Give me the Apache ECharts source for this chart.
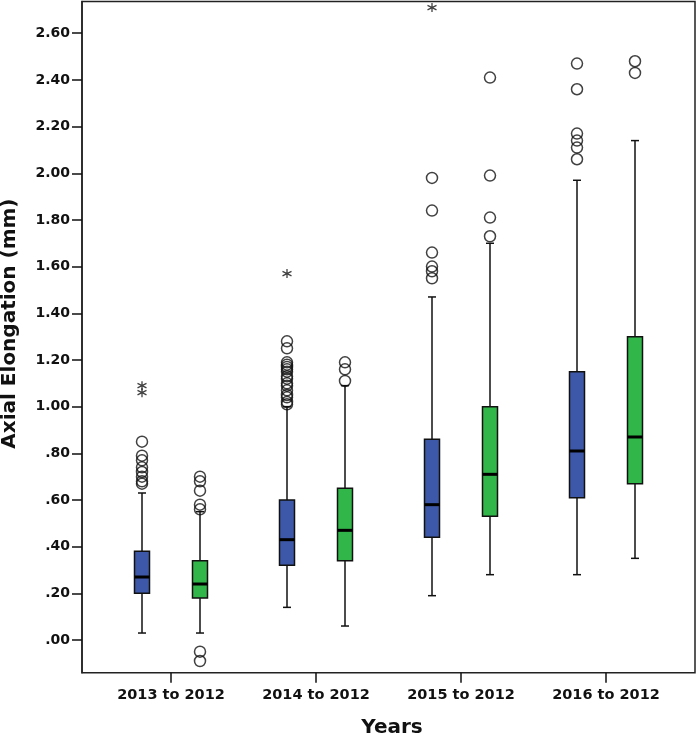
<!DOCTYPE html>
<html>
<head>
<meta charset="utf-8">
<script src="https://cdn.jsdelivr.net/npm/echarts@6/dist/echarts.min.js"></script>
<style>
html,body{margin:0;padding:0;background:#fff;}
#chart{width:696px;height:737px;}
</style>
</head>
<body>
<div id="chart"></div>
<script>
// ---------- data ----------
const categories = ['2013 to 2012', '2014 to 2012', '2015 to 2012', '2016 to 2012'];
// [lowWhisker, Q1, median, Q3, highWhisker]
const blueStats = [
  [0.03, 0.20, 0.27, 0.38, 0.63],
  [0.14, 0.32, 0.43, 0.60, 1.00],
  [0.19, 0.44, 0.58, 0.86, 1.47],
  [0.28, 0.61, 0.81, 1.15, 1.97]
];
const greenStats = [
  [0.03, 0.18, 0.24, 0.34, 0.55],
  [0.06, 0.34, 0.47, 0.65, 1.09],
  [0.28, 0.53, 0.71, 1.00, 1.70],
  [0.35, 0.67, 0.87, 1.30, 2.14]
];
const blueOutliers = [
  [0.85, 0.79, 0.77, 0.74, 0.72, 0.70, 0.68, 0.67],
  [1.28, 1.25, 1.19, 1.18, 1.17, 1.16, 1.15, 1.13, 1.12, 1.10, 1.09, 1.07, 1.05, 1.04, 1.02, 1.01],
  [1.98, 1.84, 1.66, 1.60, 1.58, 1.55],
  [2.47, 2.36, 2.17, 2.14, 2.11, 2.06]
];
const greenOutliers = [
  [0.70, 0.68, 0.64, 0.58, 0.56, -0.05, -0.09],
  [1.19, 1.16, 1.11],
  [2.41, 1.99, 1.81, 1.73],
  [2.48, 2.43]
];
const blueExtremes = [[1.09, 1.06], [1.57], [2.71], []];
const greenExtremes = [[], [], [], []];
const yTickValues = [0, 0.2, 0.4, 0.6, 0.8, 1.0, 1.2, 1.4, 1.6, 1.8, 2.0, 2.2, 2.4, 2.6];
const yTickLabels = ['.00', '.20', '.40', '.60', '.80', '1.00', '1.20', '1.40', '1.60', '1.80', '2.00', '2.20', '2.40', '2.60'];
const yMin = -0.140;
const yMax = 2.736;

// ---------- styles ----------
const FONT = 'DejaVu Sans';
const BLUE = '#3e58a9';
const GREEN = '#31b64a';
const OFFSET = 29;

function boxData(stats) {
  return stats.map((s, i) => [i].concat(s));
}
function pointData(groups) {
  const out = [];
  groups.forEach((g, i) => g.forEach(v => out.push([i, v])));
  return out;
}
function makeRenderItem(offset, fill) {
  return function (params, api) {
    const c = api.value(0);
    const lo = api.coord([c, api.value(1)]);
    const q1 = api.coord([c, api.value(2)]);
    const md = api.coord([c, api.value(3)]);
    const q3 = api.coord([c, api.value(4)]);
    const hi = api.coord([c, api.value(5)]);
    const x = lo[0] + offset;
    const hw = 7.5, cw = 4;
    const ls = { stroke: '#111', lineWidth: 1.5 };
    return {
      type: 'group',
      children: [
        { type: 'line', shape: { x1: x, y1: hi[1], x2: x, y2: q3[1] }, style: ls },
        { type: 'line', shape: { x1: x, y1: q1[1], x2: x, y2: lo[1] }, style: ls },
        { type: 'line', shape: { x1: x - cw, y1: hi[1], x2: x + cw, y2: hi[1] }, style: ls },
        { type: 'line', shape: { x1: x - cw, y1: lo[1], x2: x + cw, y2: lo[1] }, style: ls },
        { type: 'rect', shape: { x: x - hw, y: q3[1], width: 2 * hw, height: q1[1] - q3[1] },
          style: { fill: fill, stroke: '#111', lineWidth: 1.5 } },
        { type: 'line', shape: { x1: x - hw, y1: md[1], x2: x + hw, y2: md[1] },
          style: { stroke: '#000', lineWidth: 3 } }
      ]
    };
  };
}
const STAR = 'path://M5,0L5,10M0.7,2.5L9.3,7.5M0.7,7.5L9.3,2.5';

const chart = echarts.init(document.getElementById('chart'), null, { renderer: 'canvas' });
chart.setOption({
  animation: false,
  backgroundColor: '#fff',
  grid: [
    { left: 82, right: 1, top: 1.5, bottom: 64.3, containLabel: false, outerBoundsMode: 'none',
      show: true, borderColor: '#222', borderWidth: 1.5, backgroundColor: 'transparent' },
    { left: 98.5, width: 580, top: 1.5, bottom: 64.3, containLabel: false, outerBoundsMode: 'none' }
  ],
  xAxis: [
    { type: 'value', gridIndex: 0, show: false, min: 0, max: 1 },
    {
      type: 'category', gridIndex: 1, data: categories, boundaryGap: true, position: 'bottom',
      axisLine: { show: false, onZero: false },
      axisTick: { show: true, alignWithLabel: true, length: 10, lineStyle: { color: '#111', width: 1.5 } },
      axisLabel: { margin: 15, color: '#111', fontFamily: FONT, fontWeight: 'bold', fontSize: 14.5 },
      splitLine: { show: false },
      name: 'Years', nameLocation: 'middle', nameGap: 45,
      nameTextStyle: { fontFamily: FONT, fontWeight: 'bold', fontSize: 20, color: '#111', padding: [0, 0, 0, 7] }
    }
  ],
  yAxis: [
    {
      type: 'value', gridIndex: 0, min: yMin, max: yMax,
      axisLine: { show: true, onZero: false, lineStyle: { color: '#222', width: 1.5 } },
      axisTick: { show: true, length: 10, customValues: yTickValues, lineStyle: { color: '#111', width: 1.5 } },
      axisLabel: {
        customValues: yTickValues, margin: 12, color: '#111', fontFamily: FONT, fontWeight: 'bold', fontSize: 14,
        formatter: function (v) {
          const i = yTickValues.findIndex(t => Math.abs(t - v) < 1e-6);
          return i >= 0 ? yTickLabels[i] : '';
        }
      },
      splitLine: { show: false },
      name: 'Axial Elongation (mm)', nameLocation: 'middle', nameGap: 62,
      nameTextStyle: { fontFamily: FONT, fontWeight: 'bold', fontSize: 20, color: '#111', padding: [0, 0, 0, 27] }
    },
    { type: 'value', gridIndex: 1, min: yMin, max: yMax, show: false, splitLine: { show: false } }
  ],
  series: [
    {
      type: 'custom', xAxisIndex: 1, yAxisIndex: 1, data: boxData(blueStats),
      encode: { x: 0, y: [1, 2, 3, 4, 5] }, renderItem: makeRenderItem(-OFFSET, BLUE)
    },
    {
      type: 'custom', xAxisIndex: 1, yAxisIndex: 1, data: boxData(greenStats),
      encode: { x: 0, y: [1, 2, 3, 4, 5] }, renderItem: makeRenderItem(OFFSET, GREEN)
    },
    {
      type: 'scatter', xAxisIndex: 1, yAxisIndex: 1, data: pointData(blueOutliers),
      symbol: 'circle', symbolSize: 11, symbolOffset: [-OFFSET, 0],
      itemStyle: { color: 'rgba(0,0,0,0)', borderColor: '#111', borderWidth: 1.5 }
    },
    {
      type: 'scatter', xAxisIndex: 1, yAxisIndex: 1, data: pointData(greenOutliers),
      symbol: 'circle', symbolSize: 11, symbolOffset: [OFFSET, 0],
      itemStyle: { color: 'rgba(0,0,0,0)', borderColor: '#111', borderWidth: 1.5 }
    },
    {
      type: 'scatter', xAxisIndex: 1, yAxisIndex: 1, data: pointData(blueExtremes),
      symbol: STAR, symbolSize: 9, symbolOffset: [-OFFSET, 0],
      itemStyle: { color: 'rgba(0,0,0,0)', borderColor: '#111', borderWidth: 1.3 }
    },
    {
      type: 'scatter', xAxisIndex: 1, yAxisIndex: 1, data: pointData(greenExtremes),
      symbol: STAR, symbolSize: 9, symbolOffset: [OFFSET, 0],
      itemStyle: { color: 'rgba(0,0,0,0)', borderColor: '#111', borderWidth: 1.3 }
    }
  ]
});
</script>
</body>
</html>
